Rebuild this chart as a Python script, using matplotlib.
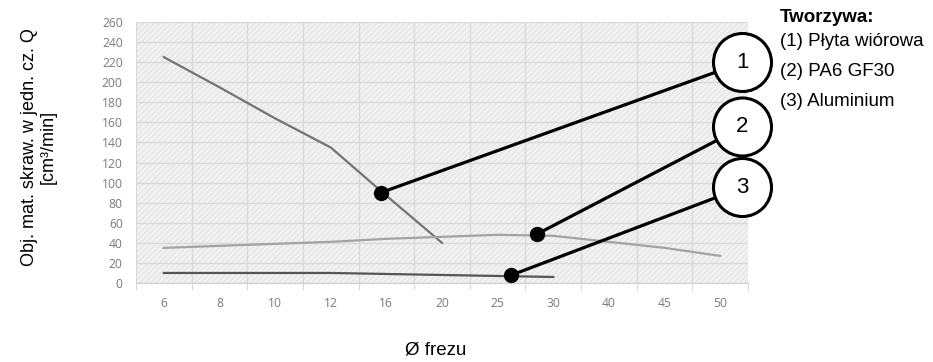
import matplotlib.pyplot as plt
from matplotlib.patches import Ellipse

kategorie = ['6', '8', '10', '12', '16', '20', '25', '30', '40', '45', '50']
plyta = [225, 195, 164, 135, 87, 40]
pa6 = [35, 37, 39, 41, 44, 46, 48, 47, 41, 35, 27]
aluminium = [10, 10, 10, 10, 9, 8, 7, 6]

# callout dots (category position, value) and circle labels
punkty_x = [3.9, 6.7, 6.24]
punkty_y = [90, 48.5, 7.7]
numery = ['1', '2', '3']
opisy = ['(1) Płyta wiórowa', '(2) PA6 GF30', '(3) Aluminium']

arial = ['Liberation Sans', 'DejaVu Sans']

fig = plt.figure(figsize=(9.33, 3.62), dpi=100)
ax = fig.add_axes([136/933, 1-283/362, 612/933, 261/362])
ax.set_facecolor('#f2f2f2')
ax.patch.set_hatch('//////')
ax.patch.set_edgecolor('#e6e6e6')
ax.patch.set_linewidth(0)

x = list(range(len(kategorie)))
ax.plot(x[:len(plyta)], plyta, color='#737373', lw=1.6, zorder=3)
ax.plot(x[:len(pa6)], pa6, color='#a3a3a3', lw=1.6, zorder=3)
ax.plot(x[:len(aluminium)], aluminium, color='#555555', lw=1.6, zorder=3)

ax.set_xlim(-0.5, len(kategorie) - 0.5)
ax.set_ylim(0, 260)
ax.set_yticks(range(0, 261, 20))
ax.set_xticks(x)
ax.set_xticklabels(kategorie)
ax.set_xticks([i - 0.5 for i in range(len(kategorie) + 1)], minor=True)
ax.grid(True, which='major', axis='y', color='#d9d9d9', lw=1)
ax.grid(True, which='minor', axis='x', color='#d9d9d9', lw=1)
ax.set_axisbelow(True)
for s in ['top', 'right', 'left']:
    ax.spines[s].set_visible(False)
ax.spines['bottom'].set_color('#d0d0d0')
ax.tick_params(axis='x', which='major', length=0, pad=10, labelsize=8.7, labelcolor='#7a7a7a')
ax.tick_params(axis='x', which='minor', length=5, color='#d0d0d0')
ax.tick_params(axis='y', length=0, pad=9.5, labelsize=8.7, labelcolor='#7a7a7a')
for t in ax.get_xticklabels() + ax.get_yticklabels():
    t.set_family('Open Sans')

# callouts
rx = 29 / 612
ry = 29 / 261
cx = (742.5 - 136) / 612
cy = [(283 - 62.5) / 261, (283 - 127) / 261, (283 - 187.5) / 261]
for i in range(3):
    ax.annotate('', xy=(punkty_x[i], punkty_y[i]), xytext=(cx, cy[i]),
                textcoords='axes fraction', annotation_clip=False,
                arrowprops=dict(arrowstyle='-', lw=2.3, color='black',
                                shrinkA=21, shrinkB=0), zorder=5)
    ax.scatter(punkty_x[i], punkty_y[i], s=100, color='black', zorder=6, clip_on=False)
    ax.add_patch(Ellipse((cx, cy[i]), 2*rx, 2*ry, transform=ax.transAxes,
                         facecolor='white', edgecolor='black', lw=2.2,
                         clip_on=False, zorder=7))
    ax.text(cx, cy[i], numery[i], transform=ax.transAxes, ha='center', va='center',
            fontsize=16, family=arial, zorder=8)

fig.text(780/933, 1-18/362, 'Tworzywa:', fontsize=13.5, fontweight='bold',
         family=arial, va='center', ha='left')
for i, t in enumerate(opisy):
    fig.text(780/933, 1-(42 + 30*i)/362, t, fontsize=13.5, family=arial,
             va='center', ha='left')

fig.text(39/933, 1-147/362, 'Obj. mat. skraw. w jedn. cz. Q\n[cm³/min]', rotation=90,
         ha='center', va='center', multialignment='center', fontsize=13,
         family=arial, linespacing=1.1)
fig.text(436/933, 1-350/362, 'Ø frezu', ha='center', va='center', fontsize=13.5,
         family=arial)

fig.savefig('out.png', dpi=100)
